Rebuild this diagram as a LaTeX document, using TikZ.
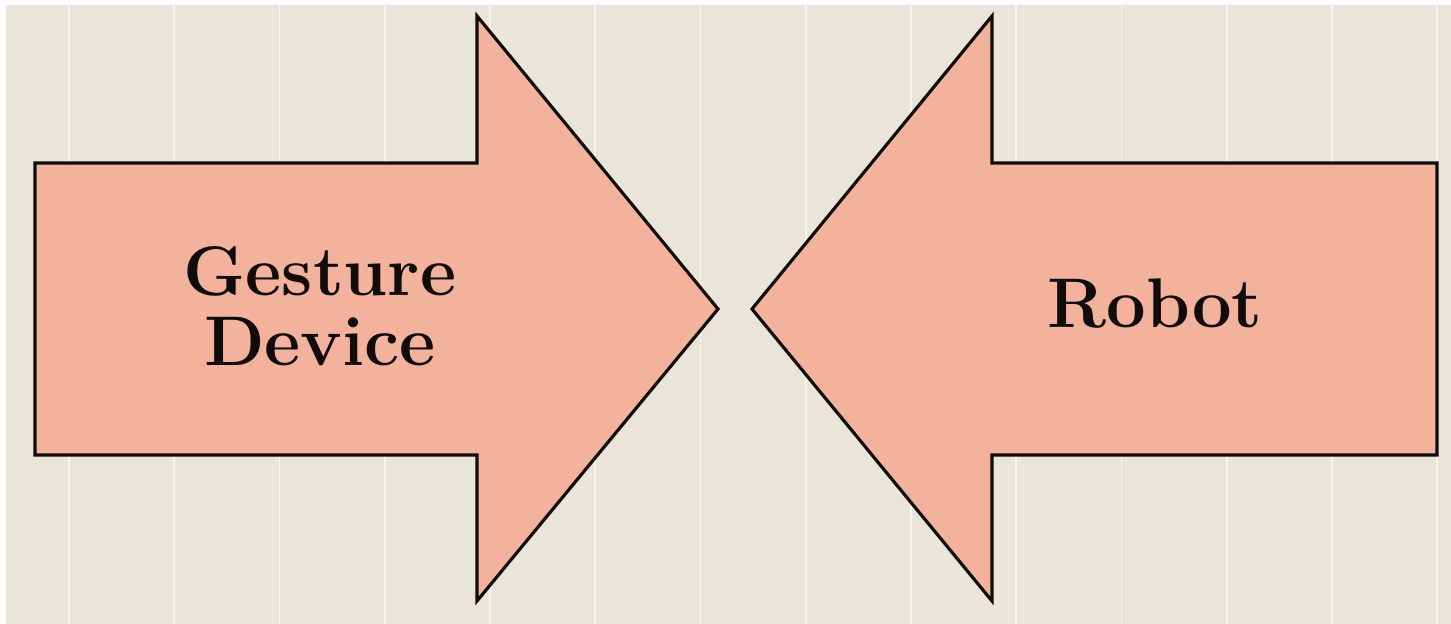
\documentclass[tikz,border=0pt]{standalone}
\usepackage{xcolor}
\usepackage{tikz}
\definecolor{paperbg}{RGB}{234, 229, 218}
\definecolor{paperline}{RGB}{248, 244, 236}
\definecolor{salmonfill}{RGB}{243, 178, 156}
\definecolor{inkblack}{RGB}{15, 12, 10}

\begin{document}
\begin{tikzpicture}[x=0.02cm, y=-0.02cm,
    blockarrow/.style={draw=inkblack, fill=salmonfill, line width=1.8pt, line join=miter},
    bigtext/.style={font=\fontsize{40}{39.8}\selectfont\bfseries, text=inkblack, align=center, inner sep=0pt}]

%% ── BACKGROUND ───────────────────────────────────────────────────────────────
\fill[white] (0,0) rectangle (1451,624);
\useasboundingbox (0,0) rectangle (1451,624);
\fill[paperbg] (6,5) rectangle (1451,624);
% faint vertical rules of the paper
\foreach \k in {0,...,13}
  \draw[paperline, line width=1.1pt] ({69+105.25*\k},5) -- ({69+105.25*\k},624);

%% ── LEFT ARROW: pointing right ───────────────────────────────────────────────
\draw[blockarrow] (35,163) -- (477,163) -- (477,16) -- (718,309)
  -- (477,601) -- (477,455) -- (35,455) -- cycle;
\node[bigtext] (gesture) at (320,306) {Gesture\\Device};

%% ── RIGHT ARROW: pointing left ───────────────────────────────────────────────
\draw[blockarrow] (1437,163) -- (992,163) -- (992,16) -- (752,309)
  -- (992,601) -- (992,455) -- (1437,455) -- cycle;
\node[bigtext] (robot) at (1155,304) {Robot};

\end{tikzpicture}
\end{document}
